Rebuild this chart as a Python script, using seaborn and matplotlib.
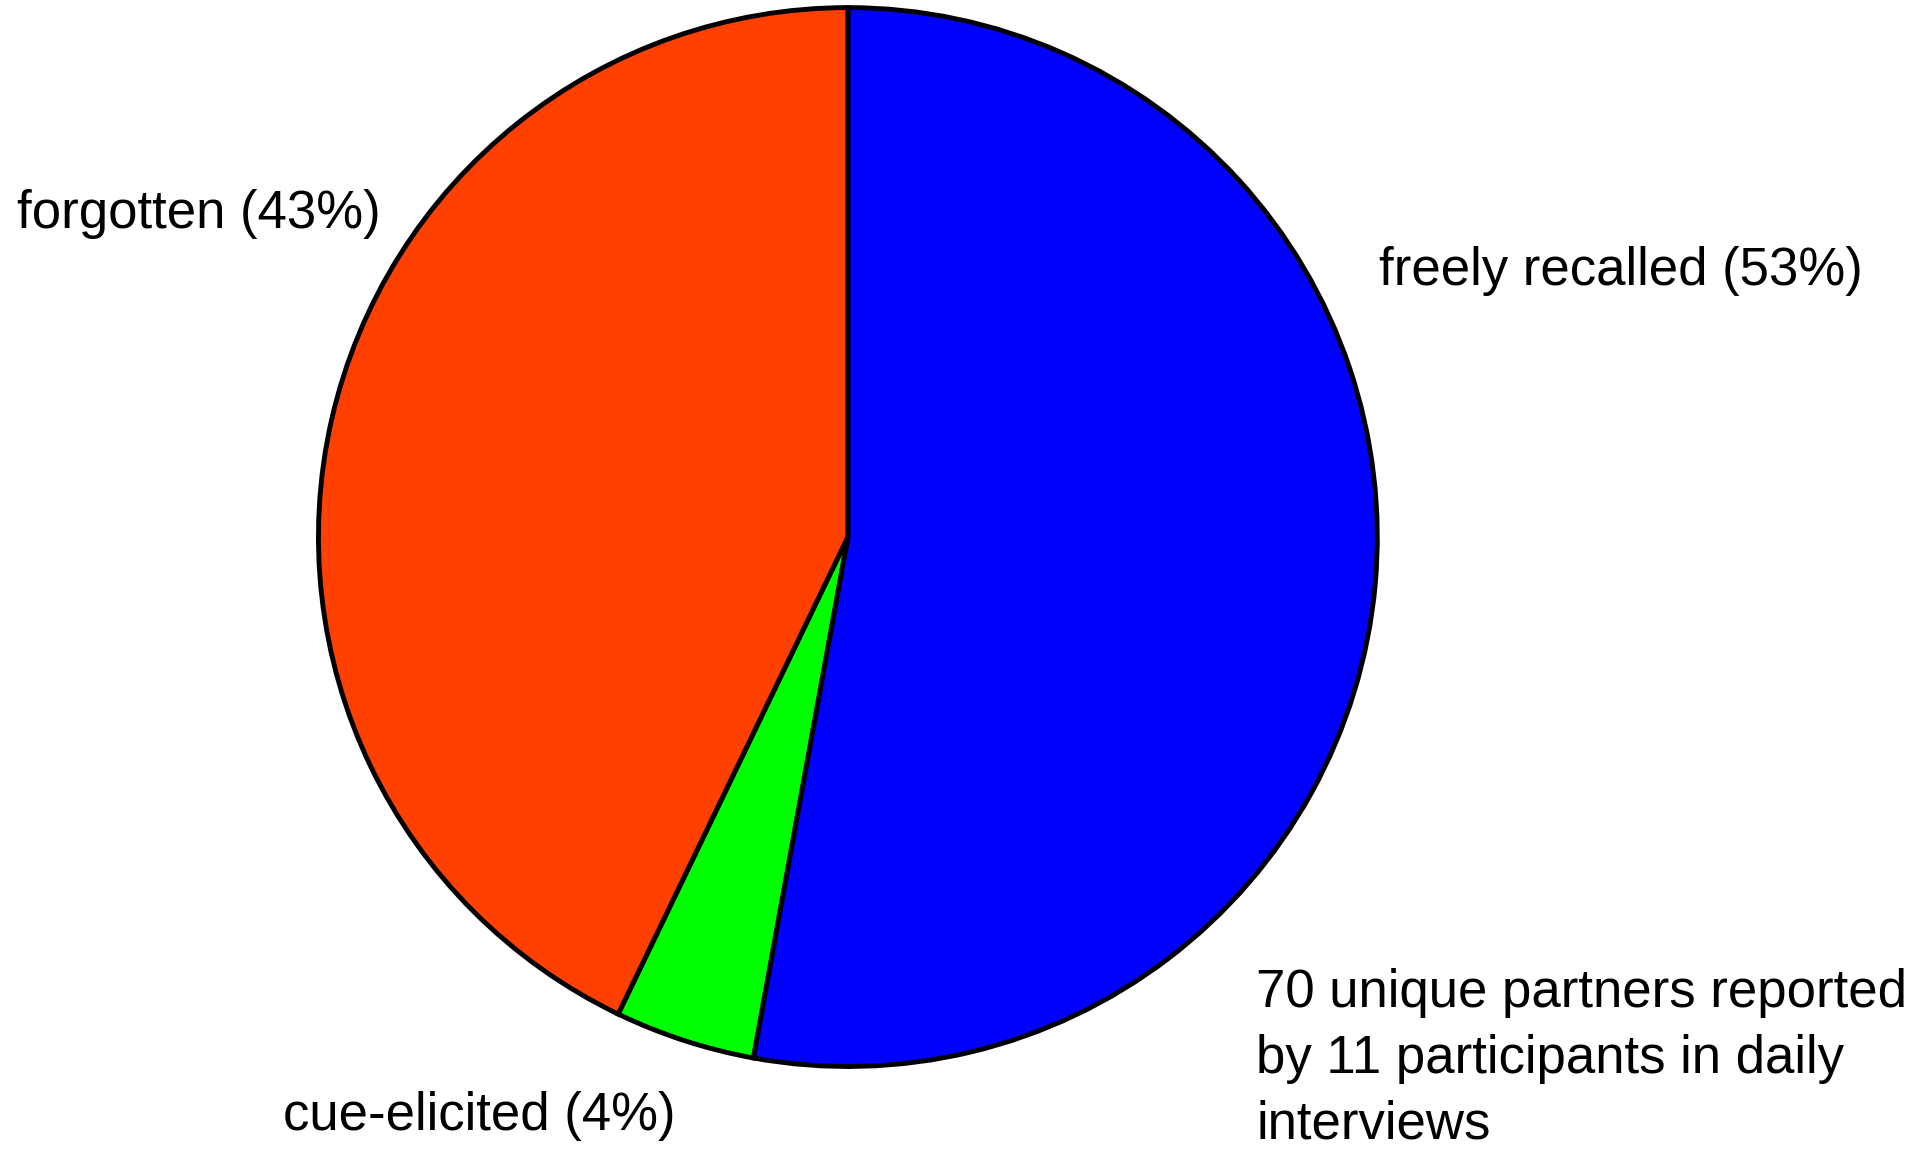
import matplotlib
matplotlib.use('Agg')
import matplotlib.pyplot as plt
import seaborn as sns

# partner recall categories (counts out of 70 unique partners)
categories = ['freely recalled', 'cue-elicited', 'forgotten']
counts = [37, 3, 30]
percent_labels = ['53%', '4%', '43%']
slice_colors = ['#0000FF', '#00FF00', '#FF4000']
note = '70 unique partners reported\nby 11 participants in daily\ninterviews'

sns.set_theme(style='white')
plt.rcParams['font.family'] = ['Liberation Sans', 'DejaVu Sans']
plt.rcParams['text.color'] = 'black'

fig = plt.figure(figsize=(19.27, 11.5), dpi=100)
ax = fig.add_axes([0.166, 0.074, 0.548, 0.918])
ax.pie(counts, colors=slice_colors, startangle=90, counterclock=False,
       wedgeprops=dict(edgecolor='black', linewidth=3.5))
ax.set_aspect('equal')
ax.set_xlim(-0.997, 0.997)
ax.set_ylim(-0.997, 0.997)

labels = [f'{c} ({p})' for c, p in zip(categories, percent_labels)]
fs = 38
fig.text(1379 / 1927, 1 - 271 / 1150, labels[0], fontsize=fs, va='center', ha='left')
fig.text(283 / 1927, 1 - 1116 / 1150, labels[1], fontsize=fs, va='center', ha='left')
fig.text(17 / 1927, 1 - 214 / 1150, labels[2], fontsize=fs, va='center', ha='left')
fig.text(1256 / 1927, 1 - 968 / 1150, note, fontsize=fs, va='top', ha='left',
         linespacing=1.4)

fig.savefig('out.png', dpi=100, facecolor='white')
